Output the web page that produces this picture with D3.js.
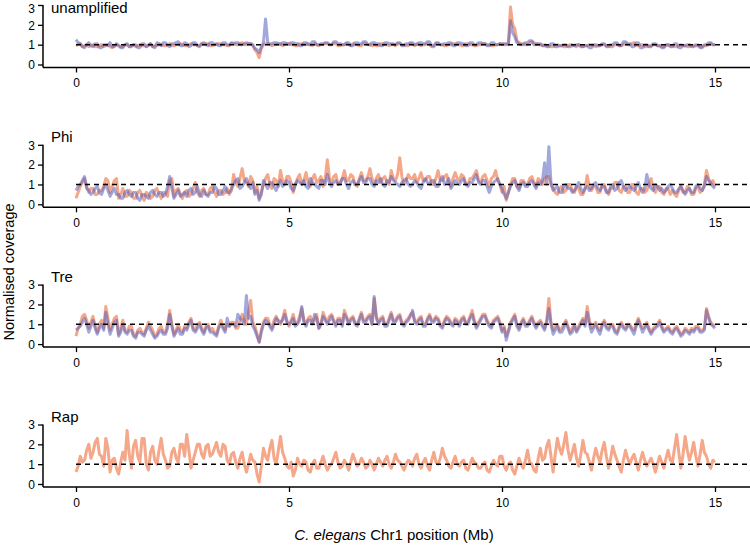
<!DOCTYPE html>
<html><head><meta charset="utf-8">
<script src="https://cdn.jsdelivr.net/npm/d3@7"></script>
<style>
body{margin:0;background:#fff;}
svg{display:block;font-family:"Liberation Sans",Arial,sans-serif;}
</style></head>
<body><svg id="chart" width="750" height="545"></svg>
<script>
// Bin positions (Mb), 50 kb windows along chromosome I
const positions = d3.range(0, 301).map(i => i / 20);
const xTicks = [0, 5, 10, 15];
const yTicks = [0, 1, 2, 3];
const panelNames = ["unamplified", "Phi", "Tre", "Rap"];

const unampOrange = [
0.95,1.0,1.05,0.9,0.95,1.0,0.9,0.95,1.0,0.9,
0.9,0.95,1.0,0.9,0.95,1.0,0.9,0.85,0.95,1.0,
0.95,0.9,0.9,1.0,1.0,0.9,0.95,1.0,0.9,0.95,
1.0,0.95,0.95,0.9,1.0,1.05,0.9,0.95,0.95,1.0,
1.0,0.95,0.95,1.0,1.05,0.95,0.95,1.0,1.0,1.05,
1.0,0.95,0.95,1.0,1.05,1.0,1.0,0.95,0.95,1.05,
1.0,1.05,1.05,0.95,0.95,1.0,1.0,1.05,1.05,1.0,
1.0,0.95,0.95,1.05,1.05,1.0,1.0,1.05,1.1,1.0,
1.0,1.05,1.05,0.95,0.75,0.6,0.35,0.8,1.0,1.05,
1.05,1.0,0.95,1.0,1.0,1.05,1.05,0.95,1.0,1.05,
1.05,1.0,1.0,0.95,0.95,1.05,1.05,1.0,1.0,1.05,
1.0,0.95,1.05,1.0,0.95,1.0,1.0,1.05,1.05,1.0,
1.0,1.05,1.05,0.95,0.95,1.0,1.0,1.05,1.0,0.95,
1.05,1.0,1.0,0.95,0.95,1.05,1.05,1.0,1.0,0.95,
1.0,0.95,0.95,1.05,1.05,1.0,1.0,0.95,1.0,1.05,
0.95,1.05,1.05,1.0,1.0,0.95,0.95,1.05,1.0,0.95,
1.05,1.0,0.95,1.0,1.0,1.05,1.0,0.9,0.9,1.05,
1.05,1.0,1.0,0.95,0.95,1.0,1.0,1.05,1.05,1.0,
1.0,0.95,0.95,1.05,1.05,1.0,1.0,0.95,0.95,1.0,
1.0,1.05,1.05,1.0,1.0,0.95,0.95,1.0,1.0,1.05,
1.05,1.0,1.0,1.05,2.9,2.0,1.8,1.2,1.1,1.05,
1.05,1.0,1.0,1.05,1.15,1.1,1.05,1.0,1.0,0.95,
1.0,0.95,0.95,0.9,0.9,1.0,1.0,0.95,0.95,0.9,
0.9,0.95,1.0,1.0,0.95,0.9,1.0,0.95,0.9,0.95,
0.95,1.0,1.0,0.95,0.9,0.95,0.95,1.0,1.0,0.95,
0.95,0.9,0.9,1.0,1.0,0.95,0.95,1.0,1.05,1.0,
1.0,1.05,1.1,0.95,0.95,1.0,1.0,0.9,0.9,0.95,
0.95,1.0,1.0,0.95,0.95,0.9,0.9,0.95,1.0,0.95,
0.95,0.9,0.9,0.95,1.0,0.95,0.95,0.9,0.9,0.95,
0.95,1.0,1.0,0.9,0.9,0.95,0.95,1.0,1.05,1.0,
1.0];
const unampBlue = [
1.25,1.1,1.05,0.9,0.85,1.0,1.1,0.95,0.9,1.05,
1.05,0.85,0.85,1.0,1.0,0.95,1.1,0.9,0.9,1.05,
0.95,0.85,0.85,1.0,1.05,0.9,0.9,1.0,1.0,0.85,
0.85,1.05,1.05,0.9,0.95,1.05,0.9,0.85,1.1,1.05,
0.95,1.1,1.1,0.95,0.9,1.05,1.05,1.1,1.15,0.95,
0.95,1.1,1.05,0.9,0.95,1.1,1.1,0.95,0.9,1.05,
1.1,1.0,0.95,1.1,1.1,1.0,1.05,0.95,0.95,1.1,
1.1,1.0,1.0,1.1,1.05,1.1,1.1,1.0,1.0,1.05,
1.1,1.05,1.05,1.0,0.8,0.75,0.6,0.9,1.1,2.3,
1.1,1.05,1.05,1.1,1.1,1.05,1.0,1.1,1.1,1.05,
1.0,1.1,1.1,1.05,1.05,0.95,0.95,1.1,1.1,1.0,
1.0,1.15,1.15,1.0,1.0,1.05,1.05,1.1,1.1,1.0,
1.0,1.15,1.15,1.05,1.05,1.0,1.0,1.1,1.1,0.95,
0.95,1.1,1.1,1.05,1.05,1.15,1.15,1.0,1.0,1.1,
1.1,1.05,1.05,0.95,0.95,1.1,1.1,1.05,1.05,1.0,
1.0,1.1,1.1,0.95,0.95,1.05,1.05,1.1,1.1,1.0,
1.0,1.1,1.1,1.05,1.05,1.15,1.15,0.95,0.95,1.1,
1.1,1.0,1.0,1.05,1.05,1.1,1.1,0.95,0.95,1.1,
1.1,1.05,1.05,0.95,0.95,1.1,1.1,1.0,1.0,1.1,
1.1,1.05,1.05,0.95,0.95,1.1,1.1,1.0,1.0,1.05,
1.0,1.05,1.05,1.0,2.2,1.6,1.4,1.1,1.05,1.0,
1.0,1.1,1.1,1.2,1.2,1.0,1.0,1.05,1.05,0.95,
0.95,0.9,0.9,1.05,1.05,0.9,0.9,0.95,0.95,1.0,
1.0,0.9,0.9,0.95,0.95,1.0,1.0,0.9,0.9,0.95,
0.95,0.85,0.85,1.0,1.0,0.95,0.95,1.05,1.05,0.9,
0.9,1.0,1.0,1.1,1.1,0.95,0.95,1.15,1.15,1.05,
1.05,0.9,0.9,1.1,1.1,0.85,0.85,1.0,1.0,0.9,
0.9,1.05,1.05,0.95,0.95,0.85,0.85,1.0,1.0,0.9,
0.9,1.05,1.05,0.85,0.85,0.95,0.95,1.0,1.0,0.9,
0.9,0.95,0.95,0.85,0.85,1.0,1.0,1.1,1.1,1.0,
1.0];
const phiOrange = [
0.3,0.6,0.9,1.1,1.3,0.9,0.6,0.8,0.8,0.5,
0.5,0.7,0.7,0.9,1.3,1.2,0.6,0.9,1.2,1.3,
0.3,0.5,0.8,0.4,0.4,0.7,0.6,0.3,0.3,0.6,
0.7,0.4,0.2,0.6,0.5,0.3,0.4,0.7,0.8,0.5,
0.3,0.6,0.6,0.4,1.2,1.3,0.4,0.7,0.8,0.5,
0.3,0.6,0.7,0.4,0.5,0.8,1.1,0.6,0.4,0.7,
0.8,0.5,0.5,0.8,0.9,0.6,0.4,0.7,0.7,0.5,
0.6,0.8,0.5,0.7,1.5,1.1,0.9,1.3,1.8,1.2,
1.1,0.9,1.4,1.2,0.6,0.9,0.3,0.6,1.0,1.3,
1.5,1.0,0.8,1.3,1.2,0.9,1.7,1.2,1.0,1.4,
1.4,1.1,0.6,1.0,1.3,1.5,1.0,1.2,1.6,1.1,
0.9,1.3,1.5,1.1,1.2,1.4,0.9,1.3,2.25,1.3,
1.1,1.4,1.5,1.0,1.0,1.3,1.7,1.2,1.2,1.5,
1.4,1.0,0.9,1.3,1.6,1.2,1.2,1.4,1.8,1.3,
1.0,1.3,1.5,1.1,1.3,1.4,1.1,1.0,1.7,1.3,
1.2,1.5,2.35,1.4,1.0,1.2,1.5,1.3,1.3,1.5,
1.1,1.3,1.6,1.2,1.2,1.4,1.4,1.0,1.0,1.3,
1.7,1.2,1.2,1.4,1.5,1.1,0.9,1.3,1.6,1.3,
1.2,1.5,1.4,1.0,1.0,1.3,1.3,1.5,1.7,1.2,
1.1,1.4,1.5,1.2,0.9,1.3,1.4,1.7,1.2,1.0,
0.6,0.9,0.2,0.6,1.0,1.3,1.3,0.9,0.8,1.2,
1.2,1.0,1.0,1.3,1.4,1.1,0.9,1.3,1.2,1.0,
1.3,1.4,1.4,1.0,0.8,0.6,0.5,0.8,0.9,0.6,
0.7,1.0,1.0,0.7,0.6,0.9,0.8,0.5,0.5,0.8,
1.45,0.9,0.7,0.9,0.9,0.6,0.6,1.0,1.0,0.7,
0.5,0.8,0.8,1.1,1.1,0.7,0.6,0.9,0.9,0.6,
0.6,1.0,1.0,0.6,0.5,0.8,0.8,0.6,0.7,1.0,
1.3,0.8,0.6,0.9,0.9,0.6,0.5,0.8,0.8,0.5,
0.7,0.5,0.4,0.7,0.9,0.6,0.6,0.9,0.8,0.5,
0.5,0.8,0.9,0.6,0.7,1.0,1.7,1.3,1.0,1.2,
0.9];
const phiBlue = [
0.7,0.9,1.0,1.2,1.4,0.8,0.7,0.5,0.6,0.8,
0.9,0.6,0.5,0.8,1.0,0.7,0.4,0.6,0.8,0.5,
0.5,0.3,0.3,0.6,0.7,0.5,0.4,0.6,0.6,0.3,
0.2,0.5,0.5,0.4,0.3,0.6,0.7,0.5,0.4,0.6,
0.6,0.4,0.5,0.9,1.4,0.8,0.3,0.5,0.7,0.4,
0.5,0.6,0.4,0.7,0.8,0.5,0.6,0.9,0.5,0.4,
0.7,0.5,0.4,0.6,0.6,0.9,0.8,0.5,0.5,0.7,
0.9,0.6,0.6,0.8,1.0,1.2,1.3,0.8,0.9,1.1,
1.3,1.0,0.8,1.1,0.5,0.7,0.2,0.5,1.2,1.0,
0.8,1.1,1.1,0.9,0.7,1.0,1.2,0.9,1.0,1.2,
1.1,0.8,0.7,1.0,1.2,1.1,1.0,1.2,0.9,0.8,
1.3,1.1,1.0,0.9,0.8,1.2,1.2,1.0,1.5,1.1,
0.9,1.1,1.2,1.0,1.1,1.3,1.3,1.0,0.8,1.1,
1.2,1.0,1.0,1.2,1.4,1.1,1.1,1.3,1.3,1.0,
0.9,1.2,1.1,1.3,1.0,0.9,1.2,1.1,1.4,1.2,
1.1,1.0,0.9,1.1,1.2,1.3,1.0,0.9,1.0,1.2,
1.1,0.9,0.8,1.1,1.3,1.1,1.0,1.2,1.2,0.9,
0.9,1.2,1.4,1.0,1.1,1.3,0.8,1.0,1.2,1.1,
1.0,1.2,1.3,1.0,0.9,1.1,1.1,1.3,1.5,1.1,
1.0,1.2,1.2,0.9,0.6,0.9,1.1,1.2,1.3,1.0,
0.8,0.5,0.3,0.6,0.9,1.1,1.2,0.9,0.7,1.0,
1.1,0.9,0.9,1.1,1.2,1.0,0.8,1.1,1.0,1.2,
2.1,1.0,2.9,1.1,0.7,0.8,0.9,0.6,0.6,0.9,
1.0,0.8,0.8,0.6,0.7,0.9,1.1,0.8,0.6,0.8,
0.9,0.7,0.8,1.0,1.1,0.8,0.7,0.9,0.9,0.6,
0.6,0.9,1.0,0.7,0.8,1.1,1.2,0.9,0.7,0.8,
0.9,0.8,0.7,0.9,1.1,0.8,0.6,0.8,1.5,1.0,
0.8,0.7,1.0,0.9,0.7,0.8,0.6,0.7,0.9,1.0,
0.8,0.6,0.6,0.8,0.9,0.7,0.5,0.7,0.8,0.6,
0.6,0.9,1.0,0.8,0.7,0.9,1.4,1.2,1.1,0.9,
0.8];
const treOrange = [
0.4,0.8,1.0,1.4,1.5,1.2,0.8,1.1,1.4,0.9,
0.6,1.0,1.2,0.8,1.9,1.3,0.7,1.0,1.3,1.4,
0.5,0.8,1.2,0.7,0.6,0.9,0.9,0.5,0.4,0.7,
0.8,0.6,0.5,0.8,1.1,0.9,0.7,0.4,0.5,0.8,
0.9,0.6,0.6,1.0,1.7,1.0,0.5,0.7,1.0,0.7,
0.6,0.9,0.8,1.1,1.3,0.8,0.7,1.0,1.1,0.8,
0.6,0.9,1.0,0.7,0.8,0.6,0.5,0.9,1.2,0.9,
0.7,1.0,0.9,1.1,1.1,0.8,0.8,1.2,1.5,1.2,
1.0,1.6,2.2,1.1,0.9,0.5,0.1,0.7,1.1,1.3,
1.3,1.0,0.8,1.2,1.4,1.1,1.0,1.3,1.7,1.2,
0.9,1.2,1.5,1.0,1.1,1.4,1.8,1.2,1.0,1.3,
1.4,1.1,1.2,1.5,0.8,1.0,1.6,1.3,1.1,1.4,
1.5,1.2,1.0,1.3,1.3,1.0,1.7,1.4,1.1,1.3,
1.4,1.1,1.0,1.3,1.6,1.2,1.2,1.4,1.5,1.0,
2.3,1.4,1.1,1.3,1.4,1.0,1.0,1.3,1.6,1.2,
1.2,1.4,1.5,1.1,1.0,1.2,1.3,1.5,1.6,1.2,
1.1,1.3,1.4,1.0,1.0,1.3,1.5,1.2,1.2,1.4,
1.3,1.0,0.9,1.2,1.4,1.3,1.1,1.0,1.3,1.2,
1.0,1.3,1.4,1.1,1.1,1.4,1.7,1.2,0.9,1.1,
1.3,1.5,1.5,1.2,1.0,0.9,1.2,1.3,1.4,1.1,
0.7,0.9,0.4,0.7,1.1,1.3,1.5,1.0,0.8,1.1,
1.3,1.0,1.0,1.2,1.4,1.1,0.9,1.1,1.2,1.0,
0.8,1.2,2.3,1.1,0.7,0.9,1.0,0.7,0.8,1.0,
1.2,0.9,0.6,0.8,1.0,0.7,0.9,1.1,1.3,1.0,
1.9,1.2,0.8,0.9,1.1,0.8,0.7,1.0,1.2,0.9,
0.8,1.0,1.0,0.7,0.6,0.9,1.1,0.9,0.8,1.0,
1.0,0.8,0.7,1.0,1.3,1.0,0.8,0.9,1.1,0.8,
0.6,0.8,0.9,1.0,1.2,0.9,0.7,0.8,0.9,0.7,
0.6,0.8,0.9,0.7,0.5,0.6,0.8,0.7,0.6,0.8,
0.7,0.9,0.9,0.7,0.7,0.8,1.8,1.4,1.1,1.0,
0.9];
const treBlue = [
0.7,0.8,0.9,1.1,1.3,1.0,0.6,0.9,1.2,0.8,
0.5,0.8,1.0,0.7,1.6,1.0,0.5,0.8,1.1,1.2,
0.4,0.6,1.0,0.6,0.5,0.7,0.7,0.4,0.3,0.6,
0.6,0.5,0.4,0.7,0.9,0.7,0.5,0.3,0.4,0.6,
0.7,0.5,0.5,0.8,1.5,0.9,0.4,0.6,0.8,0.5,
0.5,0.8,0.7,1.0,1.2,0.7,0.6,0.8,1.0,0.7,
0.5,0.8,0.9,0.6,0.6,0.5,0.4,0.8,1.0,0.8,
0.6,1.3,0.9,1.0,1.0,0.9,1.5,1.3,1.2,1.0,
2.45,1.3,1.4,0.9,0.7,0.4,0.1,0.6,1.0,1.2,
1.1,0.9,0.7,1.0,1.3,1.2,1.1,1.2,1.5,1.1,
1.0,1.1,1.3,0.9,1.0,1.2,1.9,1.1,0.9,1.2,
1.2,1.0,1.5,1.3,0.8,1.0,1.4,1.2,1.0,1.2,
1.4,1.1,0.9,1.2,1.2,0.9,1.5,1.3,1.0,1.2,
1.3,1.0,0.9,1.2,1.5,1.1,1.1,1.3,1.4,1.0,
2.4,1.3,1.0,1.2,1.3,0.9,0.9,1.2,1.5,1.1,
1.1,1.3,1.4,1.0,0.9,1.1,1.2,1.4,1.7,1.1,
1.0,1.2,1.3,0.9,0.9,1.2,1.4,1.1,1.1,1.3,
1.2,0.9,0.8,1.1,1.3,1.2,1.0,0.9,1.2,1.1,
0.9,1.2,1.3,1.0,1.0,1.3,1.5,1.1,0.8,1.0,
1.2,1.4,1.4,1.1,0.9,0.8,1.1,1.2,1.3,1.0,
0.6,0.8,0.2,0.6,1.0,1.2,1.4,0.9,0.7,1.0,
1.2,0.9,0.9,1.1,1.3,1.0,0.8,1.0,1.1,0.9,
0.7,1.1,1.8,1.0,0.5,0.7,0.9,0.6,0.6,0.8,
1.1,0.8,0.5,0.6,0.9,0.6,0.8,1.0,1.2,0.9,
1.6,1.0,0.6,0.8,1.0,0.7,0.5,0.9,1.1,0.8,
0.7,0.9,0.9,0.6,0.5,0.8,1.0,0.8,0.7,0.9,
0.9,0.7,0.5,0.9,1.2,0.9,0.6,0.8,1.0,0.7,
0.5,0.7,0.8,0.9,1.1,0.8,0.6,0.7,0.8,0.6,
0.5,0.7,0.8,0.6,0.4,0.5,0.7,0.6,0.5,0.7,
0.6,0.8,0.8,0.6,0.6,0.7,1.7,1.3,1.0,0.9,
0.8];
const rapOrange = [
0.6,0.9,1.4,1.1,1.2,1.7,2.0,1.3,1.6,2.1,
2.3,1.5,1.4,0.9,2.3,1.8,0.6,1.2,1.3,0.8,
0.5,1.1,1.6,1.2,2.7,1.5,0.8,1.9,2.2,1.4,
1.1,2.3,2.3,1.0,0.7,1.6,1.9,1.2,1.0,1.7,
2.3,1.5,1.2,0.8,0.9,1.6,1.8,1.3,1.1,2.0,
2.0,1.4,2.5,1.7,0.8,1.2,1.6,2.0,2.0,1.5,
1.3,1.9,2.0,1.4,1.5,1.8,2.1,1.6,1.4,2.0,
1.9,1.2,1.0,1.5,1.6,1.1,0.8,1.3,1.6,1.0,
0.6,1.0,1.5,1.2,1.1,0.5,0.1,0.9,1.8,1.4,
1.2,1.8,2.2,1.3,1.0,1.7,2.4,1.6,1.3,0.9,
0.8,1.1,0.4,0.7,1.3,1.0,0.9,1.2,1.1,0.7,
0.6,1.0,1.2,0.8,0.8,1.1,1.4,1.0,0.7,0.9,
1.0,1.3,1.6,1.1,0.8,0.9,1.2,1.0,0.7,1.1,
1.5,1.2,0.9,1.0,1.3,1.1,0.8,0.9,1.2,1.0,
0.7,1.0,1.3,1.1,0.9,1.2,1.4,1.0,0.8,1.1,
1.5,1.2,1.1,0.9,0.7,1.0,1.2,1.1,0.9,1.3,
1.5,1.0,0.8,1.1,1.3,0.9,0.7,1.2,1.6,1.1,
1.0,1.3,1.8,1.4,1.2,0.9,0.8,1.1,1.4,1.0,
0.9,1.1,1.2,0.8,0.7,1.0,1.3,1.1,1.0,0.8,
0.8,1.0,1.1,0.7,0.6,0.9,1.2,1.0,0.9,1.4,
1.4,0.9,0.7,1.0,1.1,0.7,0.5,0.9,1.3,1.0,
0.8,1.2,1.7,1.1,1.0,0.7,0.6,1.3,1.8,1.2,
1.3,1.9,2.2,1.4,0.6,1.5,2.3,1.8,1.5,2.0,
2.6,1.7,1.2,1.6,2.0,1.3,0.9,1.5,2.2,1.6,
1.5,1.1,0.7,1.3,1.8,1.4,1.1,1.7,2.1,1.4,
0.8,1.3,1.9,1.5,1.2,0.9,0.6,1.2,1.7,1.3,
1.0,1.3,1.5,1.1,0.7,1.2,1.6,1.2,0.9,1.1,
1.3,1.0,0.6,1.0,1.4,1.1,0.8,1.3,1.7,1.2,
1.1,1.8,2.5,1.6,0.8,1.5,2.4,1.7,1.2,1.6,
2.1,1.4,0.9,1.5,2.2,1.6,1.4,1.0,0.8,1.2,
1.1];

const panels = [
  {name: panelNames[0], orange: unampOrange, blue: unampBlue},
  {name: panelNames[1], orange: phiOrange, blue: phiBlue},
  {name: panelNames[2], orange: treOrange, blue: treBlue},
  {name: panelNames[3], orange: rapOrange, blue: null}
];

const svg = d3.select("#chart");
const x = d3.scaleLinear().domain([0, 15]).range([76, 715]);
const baseY = [64.5, 204.3, 344.1, 484];
const titleY = [13, 142, 282, 422];
const axisLeftX = 43;
const ORANGE = "#ee6c3c", BLUE = "#5560c0";
const FONT = "'Liberation Sans',Arial,sans-serif";

panels.forEach((p, i) => {
  const y0 = baseY[i];
  const y = d3.scaleLinear().domain([0, 3]).range([y0, y0 - 59.5]);
  const g = svg.append("g");
  const line = d3.line().x((d, j) => x(positions[j])).y(d => y(d));

  g.append("path").datum(p.orange)
    .attr("d", line).attr("fill", "none")
    .attr("stroke", ORANGE).attr("stroke-opacity", 0.6)
    .attr("stroke-width", 3).attr("stroke-linejoin", "round");
  if (p.blue) {
    g.append("path").datum(p.blue)
      .attr("d", line).attr("fill", "none")
      .attr("stroke", BLUE).attr("stroke-opacity", 0.55)
      .attr("stroke-width", 3).attr("stroke-linejoin", "round");
  }
  g.append("line").attr("x1", x(0)).attr("x2", 750)
    .attr("y1", y(1)).attr("y2", y(1))
    .attr("stroke", "#000").attr("stroke-width", 1.5)
    .attr("stroke-dasharray", "5,4");

  const axY = y0 + 3;
  const xa = g.append("g").attr("transform", `translate(0,${axY})`)
    .call(d3.axisBottom(x).tickValues(xTicks).tickSize(5).tickPadding(6).tickFormat(d3.format("d")));
  xa.select(".domain").remove();
  xa.selectAll("line").attr("stroke", "#000").attr("stroke-width", 1.3);
  xa.selectAll("text").attr("font-size", 12).attr("fill", "#000").attr("font-family", FONT);
  g.append("line").attr("x1", axisLeftX).attr("x2", 750)
    .attr("y1", axY).attr("y2", axY).attr("stroke", "#000").attr("stroke-width", 1.5);

  const ya = g.append("g").attr("transform", `translate(${axisLeftX},0)`)
    .call(d3.axisLeft(y).tickValues(yTicks).tickSize(5).tickPadding(3).tickFormat(d3.format("d")));
  ya.select(".domain").remove();
  ya.selectAll("line").attr("stroke", "#000").attr("stroke-width", 1.3);
  ya.selectAll("text").attr("font-size", 12).attr("fill", "#000").attr("font-family", FONT)
    .attr("dy", d => (i === 0 && d === 3) ? "0.6em" : "0.35em");
  g.append("line").attr("x1", axisLeftX).attr("x2", axisLeftX)
    .attr("y1", y(3)).attr("y2", axY).attr("stroke", "#000").attr("stroke-width", 1.5);

  g.append("text").attr("x", 51).attr("y", titleY[i])
    .attr("font-size", 15).attr("fill", "#000").text(p.name);
});

svg.append("text").attr("transform", "translate(13.5,272) rotate(-90)")
  .attr("text-anchor", "middle").attr("font-size", 14.5).attr("fill", "#000")
  .text("Normalised coverage");

const xl = svg.append("text").attr("x", 394).attr("y", 540)
  .attr("text-anchor", "middle").attr("font-size", 15).attr("fill", "#000");
xl.append("tspan").attr("font-style", "italic").text("C. elegans");
xl.append("tspan").text(" Chr1 position (Mb)");
</script></body></html>
